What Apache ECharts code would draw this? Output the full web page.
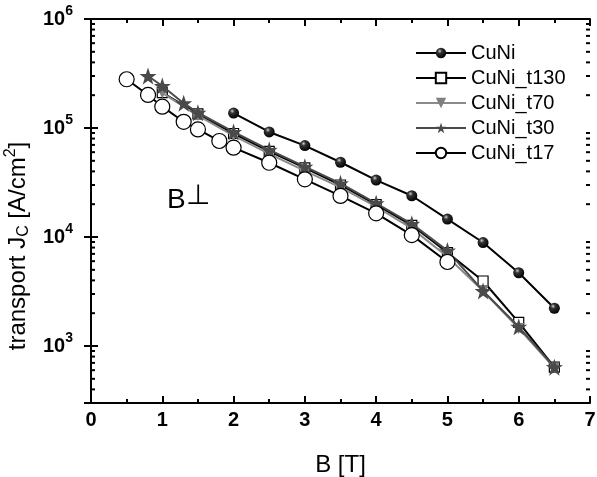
<!DOCTYPE html>
<html>
<head>
<meta charset="utf-8">
<script src="https://cdn.jsdelivr.net/npm/echarts@6/dist/echarts.min.js"></script>
<style>
html,body{margin:0;padding:0;background:#fff;}
#chart{width:597px;height:477px;}
</style>
</head>
<body>
<div id="chart"></div>
<script>
// ---- data ----
const seriesNames = ['CuNi', 'CuNi_t130', 'CuNi_t70', 'CuNi_t30', 'CuNi_t17'];
const xCuNi = [2, 2.5, 3, 3.5, 4, 4.5, 5, 5.5, 6, 6.5];
const yCuNi = [1.37e5, 9.2e4, 6.9e4, 4.85e4, 3.33e4, 2.39e4, 1.46e4, 8.9e3, 4.7e3, 2.22e3];
const xT130 = [1, 1.5, 2, 2.5, 3, 3.5, 4, 4.5, 5, 5.5, 6, 6.5];
const yT130 = [2.11e5, 1.35e5, 8.9e4, 6.1e4, 4.3e4, 3.0e4, 1.98e4, 1.28e4, 7.2e3, 3.95e3, 1.65e3, 640];
const xT70 = [1, 1.5, 2, 2.5, 3, 3.5, 4, 4.5, 5, 5.5, 6, 6.5];
const yT70 = [2.1e5, 1.3e5, 8.5e4, 5.8e4, 4.05e4, 2.85e4, 1.9e4, 1.2e4, 6.6e3, 3.2e3, 1.45e3, 630];
const xT30 = [0.8, 1, 1.3, 1.5, 2, 2.5, 3, 3.5, 4, 4.5, 5, 5.5, 6, 6.5];
const yT30 = [3.0e5, 2.43e5, 1.69e5, 1.38e5, 9.2e4, 6.3e4, 4.42e4, 3.11e4, 2.04e4, 1.32e4, 7.5e3, 3.2e3, 1.5e3, 640];
const xT17 = [0.5, 0.8, 1, 1.3, 1.5, 1.8, 2, 2.5, 3, 3.5, 4, 4.5, 5];
const yT17 = [2.8e5, 2.01e5, 1.57e5, 1.14e5, 9.7e4, 7.6e4, 6.6e4, 4.8e4, 3.38e4, 2.38e4, 1.65e4, 1.04e4, 5.9e3];
const yMinorTicks = [400, 500, 600, 700, 800, 900,
  2000, 3000, 4000, 5000, 6000, 7000, 8000, 9000,
  2e4, 3e4, 4e4, 5e4, 6e4, 7e4, 8e4, 9e4,
  2e5, 3e5, 4e5, 5e5, 6e5, 7e5, 8e5, 9e5];
const xRange = [0, 7];
const yRange = [300, 1e6];

// ---- chart ----
const FONT = '"Liberation Sans", Arial, sans-serif';
const pair = (xs, ys) => xs.map((x, i) => [x, ys[i]]);
const starPath = 'path://M50,0 L61.8,35.1 L97.6,34.5 L69,56.2 L79.4,90.5 L50,70 L20.6,90.5 L31,56.2 L2.4,34.5 L38.2,35.1 Z';
const sphere = {
  type: 'radial', x: 0.38, y: 0.32, r: 0.7,
  colorStops: [{offset: 0, color: '#d0d0d0'}, {offset: 0.3, color: '#333'}, {offset: 1, color: '#000'}]
};
const isPow10 = v => Math.abs(Math.log10(v) - Math.round(Math.log10(v))) < 1e-6;

const chart = echarts.init(document.getElementById('chart'), null, {renderer: 'canvas'});
const axisLineStyle = {color: '#000', width: 2};

const option = {
  animation: false,
  backgroundColor: '#fff',
  grid: {left: 91, right: 7, top: 19, bottom: 74, containLabel: false, outerBoundsMode: 'none'},
  legend: {
    data: seriesNames,
    orient: 'vertical',
    left: 410, top: 38,
    itemWidth: 50, itemHeight: 13, itemGap: 5,
    textStyle: {fontSize: 20, color: '#000', fontFamily: FONT},
    selectedMode: false
  },
  xAxis: [{
    type: 'value', min: xRange[0], max: xRange[1], interval: 1,
    position: 'bottom',
    name: 'B [T]', nameLocation: 'middle', nameGap: 50,
    nameTextStyle: {fontSize: 24, color: '#000', fontFamily: FONT},
    axisLine: {show: true, lineStyle: axisLineStyle},
    axisTick: {show: true, inside: true, length: 7, lineStyle: {width: 2, color: '#000'}},
    minorTick: {show: true, splitNumber: 2, length: 4, lineStyle: {width: 2, color: '#000'}},
    axisLabel: {fontSize: 20, fontWeight: 'bold', color: '#000', fontFamily: FONT, margin: 7},
    splitLine: {show: false}
  }, {
    type: 'value', min: xRange[0], max: xRange[1], interval: 1,
    position: 'top',
    axisLine: {show: true, lineStyle: axisLineStyle},
    axisTick: {show: true, inside: true, length: 7, lineStyle: {width: 2, color: '#000'}},
    minorTick: {show: true, splitNumber: 2, length: 4, lineStyle: {width: 2, color: '#000'}},
    axisLabel: {show: false},
    splitLine: {show: false}
  }],
  yAxis: [{
    type: 'log', logBase: 10, min: yRange[0], max: yRange[1],
    position: 'left',
    name: 'transport J{sub|C} [A/cm{sup|2}]', nameLocation: 'middle', nameGap: 47,
    nameTextStyle: {
      fontSize: 24, color: '#000', fontFamily: FONT,
      padding: [0, 70, 0, 0],
      rich: {
        sub: {fontSize: 16, color: '#000', fontFamily: FONT, padding: [12, 0, 0, 0]},
        sup: {fontSize: 16, color: '#000', fontFamily: FONT, padding: [0, 0, 14, 0]}
      }
    },
    axisLine: {show: true, lineStyle: axisLineStyle},
    axisTick: {show: true, inside: true, length: 7, lineStyle: {width: 2, color: '#000'}},
    axisLabel: {
      margin: 18, color: '#000',
      formatter: v => isPow10(v) ? '{b|10}{s|' + Math.round(Math.log10(v)) + '}' : '',
      rich: {
        b: {fontSize: 20, fontWeight: 'bold', color: '#000', fontFamily: FONT},
        s: {fontSize: 14, fontWeight: 'bold', color: '#000', fontFamily: FONT, padding: [0, 0, 16, 0]}
      }
    },
    splitLine: {show: false}
  }, {
    type: 'log', logBase: 10, min: yRange[0], max: yRange[1],
    position: 'right',
    axisLine: {show: true, lineStyle: axisLineStyle},
    axisTick: {show: true, inside: true, length: 7, lineStyle: {width: 2, color: '#000'}},
    axisLabel: {show: false},
    splitLine: {show: false}
  }],
  graphic: [{
    type: 'text', left: 167, top: 182,
    style: {
      text: '{b|B}{s|⊥}',
      rich: {
        b: {fontSize: 28, fill: '#000', fontFamily: FONT},
        s: {fontSize: 28, fill: '#000', fontFamily: FONT, padding: [0, 0, 8, 0]}
      }
    }
  }],
  series: [
    {
      type: 'custom', name: 'minorTicks', silent: true, z: 1,
      xAxisIndex: 0, yAxisIndex: 0,
      data: yMinorTicks.map(v => [xRange[0], v]),
      renderItem: (params, api) => {
        const v = api.value(1);
        const pL = api.coord([xRange[0], v]);
        const pR = api.coord([xRange[1], v]);
        return {
          type: 'group',
          children: [
            {type: 'line', shape: {x1: pL[0], y1: pL[1], x2: pL[0] + 4, y2: pL[1]}, style: {stroke: '#000', lineWidth: 2}},
            {type: 'line', shape: {x1: pR[0] - 4, y1: pR[1], x2: pR[0], y2: pR[1]}, style: {stroke: '#000', lineWidth: 2}}
          ]
        };
      }
    },
    {
      name: 'CuNi', type: 'line', data: pair(xCuNi, yCuNi),
      symbol: 'circle', symbolSize: 11,
      itemStyle: {color: sphere, borderWidth: 0},
      lineStyle: {color: '#000', width: 2}, z: 3
    },
    {
      name: 'CuNi_t130', type: 'line', data: pair(xT130, yT130),
      symbol: 'rect', symbolSize: 10,
      itemStyle: {color: '#fff', borderColor: '#000', borderWidth: 1.2},
      lineStyle: {color: '#000', width: 2}, z: 4
    },
    {
      name: 'CuNi_t70', type: 'line', data: pair(xT70, yT70),
      symbol: 'triangle', symbolSize: 11, symbolRotate: 180,
      itemStyle: {color: '#7f7f7f', borderWidth: 0},
      lineStyle: {color: '#8a8a8a', width: 2}, z: 5
    },
    {
      name: 'CuNi_t30', type: 'line', data: pair(xT30, yT30),
      symbol: starPath, symbolSize: 17,
      itemStyle: {color: '#4a4a4a', borderWidth: 0},
      lineStyle: {color: '#4a4a4a', width: 2}, z: 6
    },
    {
      name: 'CuNi_t17', type: 'line', data: pair(xT17, yT17),
      symbol: 'circle', symbolSize: 15,
      itemStyle: {color: '#fff', borderColor: '#000', borderWidth: 1.2},
      lineStyle: {color: '#000', width: 2}, z: 7
    }
  ]
};
chart.setOption(option);
</script>
</body>
</html>
